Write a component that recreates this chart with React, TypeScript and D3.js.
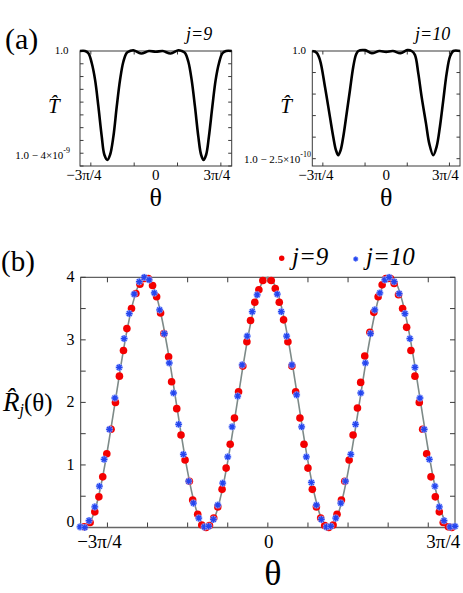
import React from 'react';
import * as d3 from 'd3';

// ---------- DATA (theta in units of π) ----------
// Panel (b): theory curve R̂(θ), sampled every π/32 from -7π/8 to 7π/8
const curveTheta = d3.range(-28, 29).map((k) => k / 32);
const curveValues = [
  0.038, 0.022, 0.236, 0.657, 1.235, 1.902, 2.581, 3.191, 3.663, 3.940, 3.990, 3.808, 3.414, 2.855,
  2.196, 1.514, 0.889, 0.394, 0.086, 0.002, 0.152, 0.518, 1.057, 1.707, 2.390, 3.028, 3.546, 3.883,
  4.000,
  3.883, 3.546, 3.028, 2.390, 1.707, 1.057, 0.518, 0.152, 0.002, 0.086, 0.394, 0.889, 1.514, 2.196,
  2.855, 3.414, 3.808, 3.990, 3.940, 3.663, 3.191, 2.581, 1.902, 1.235, 0.657, 0.236, 0.022, 0.038,
];

// j=9 points (red)
const j9Theta = [
  -0.859, -0.831, -0.809, -0.790, -0.772, -0.753, -0.733, -0.7125, -0.694, -0.675, -0.659, -0.6375,
  -0.617, -0.598, -0.575, -0.559, -0.539, -0.520, -0.5015, -0.486, -0.464, -0.450, -0.426, -0.406,
  -0.387, -0.367, -0.3515, -0.328, -0.309, -0.289, -0.273, -0.253, -0.234, -0.214, -0.195, -0.176,
  -0.156, -0.137, -0.117, -0.098, -0.081, -0.061, -0.042, -0.0234, 0.0159, 0.0347, 0.0534, 0.0736,
  0.0938, 0.1125, 0.130, 0.150, 0.169, 0.1875, 0.208, 0.227, 0.247, 0.266, 0.2845, 0.305, 0.3235,
  0.344, 0.3595, 0.380, 0.3985, 0.419, 0.434, 0.453, 0.477, 0.4955, 0.5156, 0.5344, 0.5517, 0.5737,
  0.5906, 0.611, 0.630, 0.6488, 0.669, 0.6877, 0.708, 0.7238, 0.7425, 0.7627, 0.783, 0.8016, 0.820,
  0.844, 0.860,
];
const j9Value = [
  0.01, 0.08, 0.25, 0.49, 0.81, 1.18, 1.57, 2.0, 2.42, 2.83, 3.18, 3.5,
  3.74, 3.89, 3.98, 3.98, 3.87, 3.69, 3.43, 3.10, 2.73, 2.33, 1.90, 1.48,
  1.08, 0.74, 0.44, 0.21, 0.04, 0.0, 0.03, 0.15, 0.33, 0.61, 0.95, 1.33,
  1.75, 2.17, 2.58, 2.97, 3.31, 3.60, 3.80, 3.95, 3.95, 3.82, 3.60, 3.32,
  2.97, 2.58, 2.17, 1.75, 1.33, 0.95, 0.61, 0.33, 0.15, 0.03, 0.0, 0.04, 0.21,
  0.44, 0.74, 1.08, 1.48, 1.91, 2.32, 2.74, 3.12, 3.44, 3.69, 3.88, 3.98, 3.98,
  3.90, 3.72, 3.50, 3.20, 2.83, 2.42, 2.0, 1.57, 1.18, 0.81, 0.49, 0.25, 0.08,
  0.01, 0.0,
];

// j=10 points (blue)
const j10Theta = [
  -0.878, -0.856, -0.836, -0.809, -0.7875, -0.7655, -0.7406, -0.7153, -0.695, -0.672, -0.648,
  -0.625, -0.601, -0.578, -0.555, -0.531, -0.506, -0.484, -0.461, -0.441, -0.417, -0.395, -0.370,
  -0.348, -0.323, -0.297, -0.2765, -0.2545, -0.234, -0.211, -0.1875, -0.167, -0.141, -0.120,
  -0.0966, -0.073, -0.050, 0.044, 0.0628, 0.0877, 0.1125, 0.1345, 0.158, 0.180, 0.2034, 0.227,
  0.250, 0.274, 0.294, 0.3175, 0.341, 0.363, 0.388, 0.410, 0.4345, 0.456, 0.480, 0.500, 0.5236,
  0.547, 0.567, 0.5906, 0.614, 0.641, 0.664, 0.6877, 0.711, 0.731, 0.755, 0.781, 0.8016, 0.8236,
  0.852, 0.875,
];
const j10Value = [
  0.01, 0.0, 0.11, 0.33, 0.66, 1.09, 1.57, 2.07, 2.56, 3.02, 3.42,
  3.73, 3.93, 4.0, 3.96, 3.75, 3.48, 3.10, 2.63, 2.15, 1.65, 1.17, 0.74,
  0.39, 0.15, 0.01, 0.02, 0.13, 0.36, 0.71, 1.13, 1.61, 2.10, 2.60,
  3.06, 3.45, 3.72, 3.73, 3.45, 3.06, 2.60, 2.12, 1.61, 1.13, 0.72, 0.36,
  0.13, 0.01, 0.02, 0.15, 0.39, 0.74, 1.17, 1.65, 2.15, 2.63, 3.10, 3.48, 3.75,
  3.96, 4.0, 3.93, 3.74, 3.42, 3.02, 2.56, 2.07, 1.57, 1.09, 0.66, 0.33, 0.11,
  0.01, 0.02,
];

// Panel (a) j=9: T̂ - 1 in units of 1e-9
const a9Theta = [
  -0.875, -0.817, -0.778, -0.739, -0.701, -0.663, -0.624, -0.594, -0.559, -0.528, -0.49, -0.451,
  -0.413, -0.375, -0.336, -0.298, -0.26, -0.17, -0.08, 0, 0.08, 0.17, 0.26, 0.3, 0.336, 0.375,
  0.413, 0.451, 0.49, 0.522, 0.55, 0.58, 0.612, 0.652, 0.69, 0.728, 0.768, 0.81, 0.875,
];
const a9Value = [
  0, 0, -0.09, -0.48, -1.13, -2.17, -3.35, -4.06, -4.26, -4.06, -3.35, -2.17,
  -1.13, -0.42, -0.07, 0, 0.03, -0.1, 0, -0.03, 0, -0.1, 0.03, 0, -0.07, -0.42,
  -1.13, -2.17, -3.35, -4.06, -4.26, -4.06, -3.35, -2.17, -1.13, -0.48, -0.09, 0, 0,
];
// Panel (a) j=10: T̂ - 1 in units of 1e-10
const a10Theta = [
  -0.875, -0.824, -0.784, -0.725, -0.666, -0.627, -0.595, -0.567, -0.539, -0.508, -0.468, -0.429,
  -0.39, -0.358, -0.33, -0.25, -0.17, -0.08, 0, 0.08, 0.17, 0.25, 0.302, 0.341, 0.381, 0.42,
  0.472, 0.511, 0.558, 0.598, 0.637, 0.677, 0.717, 0.756, 0.795, 0.875,
];
const a10Value = [
  0, -0.04, -0.21, -0.83, -1.53, -1.99, -2.3, -2.42, -2.3, -1.99, -1.45, -0.91,
  -0.37, -0.09, 0, 0.02, -0.05, 0, -0.02, 0, -0.05, 0.02, 0, -0.09, -0.52, -1.06,
  -1.68, -2.15, -2.42, -2.22, -1.76, -1.14, -0.52, -0.13, 0, 0,
];

const bTicks = [-0.75, -0.5625, -0.375, -0.1875, 0, 0.1875, 0.375, 0.5625, 0.75];
const bYTicks = [0, 0.5, 1, 1.5, 2, 2.5, 3, 3.5, 4];
const bYLabels = [0, 1, 2, 3, 4];
const aXTicks = [-0.75, -0.25, 0.25, 0.75];
const a9YTicks = [0, -0.5, -1, -1.5, -2, -2.5, -3, -3.5, -4, -4.5];
const a10YTicks = [0, -0.5, -1, -1.5, -2, -2.5];

const FONT = "Liberation Serif, Times New Roman, Times, DejaVu Serif, serif";
const FRAME = '#3a3a3a';

function asterisk(r: number) {
  const d = r * 0.72;
  return `M${-r},0L${r},0M0,${-r}L0,${r}M${-d},${-d}L${d},${d}M${-d},${d}L${d},${-d}`;
}

type Sc = d3.ScaleLinear<number, number>;

function Frame({ x, y, tl, tx, ty }: { x: Sc; y: Sc; tl: number; tx: number[]; ty: number[] }) {
  const [x0, x1] = x.range();
  const [y0, y1] = y.range();
  return (
    <g stroke={FRAME} fill="none">
      <rect x={x0} y={y1} width={x1 - x0} height={y0 - y1} strokeWidth={1} />
      {tx.map((t, i) => (
        <g key={'x' + i}>
          <line x1={x(t)} x2={x(t)} y1={y0} y2={y0 - tl} />
          <line x1={x(t)} x2={x(t)} y1={y1} y2={y1 + tl} />
        </g>
      ))}
      {ty.map((t, i) => (
        <g key={'y' + i}>
          <line x1={x0} x2={x0 + tl} y1={y(t)} y2={y(t)} />
          <line x1={x1} x2={x1 - tl} y1={y(t)} y2={y(t)} />
        </g>
      ))}
    </g>
  );
}

function PanelA({ x, y, theta, vals, yTicks, labelTop, topEnd, bottomMain, bottomSup, bottomEnd, bottomY, jText, jX }: any) {
  const line = d3
    .line<number>()
    .x((_, i) => x(theta[i]))
    .y((v) => y(v))
    .curve(d3.curveCatmullRom.alpha(0.5));
  const [x0] = x.range();
  return (
    <g>
      <Frame x={x} y={y} tl={3.5} tx={aXTicks} ty={yTicks} />
      <path d={line(vals) || ''} fill="none" stroke="#000" strokeWidth={2.6} strokeLinejoin="round" />
      <g fontFamily={FONT} fill="#000">
        <text x={topEnd} y={54} fontSize={11} textAnchor="end">{labelTop}</text>
        <text x={bottomEnd} y={bottomY} fontSize={11} textAnchor="end">
          <tspan>{bottomMain}</tspan>
          <tspan dy={-6} fontSize={8}>{bottomSup}</tspan>
        </text>
        <text x={x(-0.75) - 7} y={180} fontSize={15} textAnchor="middle">−3π/4</text>
        <text x={x(0)} y={180} fontSize={15} textAnchor="middle">0</text>
        <text x={x(0.75) - 4} y={180} fontSize={15} textAnchor="middle">3π/4</text>
        <text x={x(0)} y={206} fontSize={26} textAnchor="middle">θ</text>
        <text x={jX} y={40} fontSize={18} fontStyle="italic">{jText}</text>
        <text x={x0 - 32} y={113.3} fontSize={21} fontStyle="italic">{'T\u0302'}</text>
      </g>
    </g>
  );
}

export default function App() {
  const W = 463;
  const H = 593;

  const xA1 = d3.scaleLinear().domain([-0.875, 0.875]).range([80, 231.7]);
  const yA1 = d3.scaleLinear().domain([-4.5, 0]).range([166, 51]);
  const xA2 = d3.scaleLinear().domain([-0.875, 0.875]).range([312.3, 460]);
  const yA2 = d3.scaleLinear().domain([-2.67, 0]).range([166, 51]);

  const xB = d3.scaleLinear().domain([-0.875, 0.875]).range([80.7, 455]);
  const yB = d3.scaleLinear().domain([0, 4]).range([527.5, 277.3]);

  const curveLine = d3
    .line<number>()
    .x((_, i) => xB(curveTheta[i]))
    .y((v) => yB(v))
    .curve(d3.curveCatmullRom.alpha(0.5));

  return (
    <svg width={W} height={H} style={{ position: 'absolute', left: 0, top: 0, background: '#fff' }}>
      <rect x={0} y={0} width={W} height={H} fill="#fff" />
      {/* Panel (a) */}
      <text x={5} y={49} fontFamily={FONT} fontSize={30}>(a)</text>
      <PanelA
        x={xA1}
        y={yA1}
        theta={a9Theta}
        vals={a9Value}
        yTicks={a9YTicks}
        labelTop="1.0"
        topEnd={68.5}
        bottomMain="1.0 − 4×10"
        bottomSup="-9"
        bottomEnd={70}
        bottomY={158.5}
        jText="j=9"
        jX={186}
      />
      <PanelA
        x={xA2}
        y={yA2}
        theta={a10Theta}
        vals={a10Value}
        yTicks={a10YTicks}
        labelTop="1.0"
        topEnd={306}
        bottomMain="1.0 − 2.5×10"
        bottomSup="-10"
        bottomEnd={311}
        bottomY={163}
        jText="j=10"
        jX={415}
      />

      {/* Panel (b) */}
      <text x={1} y={271} fontFamily={FONT} fontSize={29}>(b)</text>
      <Frame x={xB} y={yB} tl={5} tx={bTicks} ty={bYTicks} />
      <line x1={xB.range()[0]} x2={xB.range()[1]} y1={yB(0)} y2={yB(0)} stroke="#666" strokeWidth={1.6} />
      <path d={curveLine(curveValues) || ''} fill="none" stroke="#7d8a88" strokeWidth={1.6} />
      {j9Theta.map((t, i) => (
        <circle key={'r' + i} cx={xB(t)} cy={yB(j9Value[i])} r={3.8} fill="#f40000" />
      ))}
      {j10Theta.map((t, i) => (
        <g key={'b' + i} transform={`translate(${xB(t)},${yB(j10Value[i])})`}>
          <path d={asterisk(3.6)} stroke="#a8b6ff" strokeWidth={2.6} opacity={0.75} />
          <path d={asterisk(3.3)} stroke="#2446f0" strokeWidth={1.3} />
        </g>
      ))}
      <g fontFamily={FONT} fill="#000">
        {bYLabels.map((v) => (
          <text key={v} x={74.5} y={yB(v) + 5 - (v === 0 ? 5.5 : 0)} fontSize={16} textAnchor="end">
            {v}
          </text>
        ))}
        <text x={xB(-0.75) - 8} y={548} fontSize={19} textAnchor="middle">−3π/4</text>
        <text x={xB(0) + 1} y={548} fontSize={19} textAnchor="middle">0</text>
        <text x={xB(0.75) + 15} y={548} fontSize={19} textAnchor="middle">3π/4</text>
        <text x={xB(0) + 5} y={585} fontSize={36} textAnchor="middle">θ</text>
        <text x={3} y={411} fontSize={27}>
          <tspan fontStyle="italic">{'R\u0302'}</tspan>
          <tspan fontStyle="italic" fontSize={16} dy={4}>j</tspan>
          <tspan fontSize={25} dy={-4}>(θ)</tspan>
        </text>
        {/* legend */}
        <circle cx={281.7} cy={258.3} r={2.7} fill="#f40000" />
        <text x={292} y={265} fontSize={25} fontStyle="italic">j=9</text>
        <g transform="translate(355.7,259)">
          <path d={asterisk(2.6)} stroke="#9fb0ff" strokeWidth={2} opacity={0.7} />
          <path d={asterisk(2.4)} stroke="#2446f0" strokeWidth={1.1} />
        </g>
        <text x={366} y={265} fontSize={25} fontStyle="italic">j=10</text>
      </g>
    </svg>
  );
}
